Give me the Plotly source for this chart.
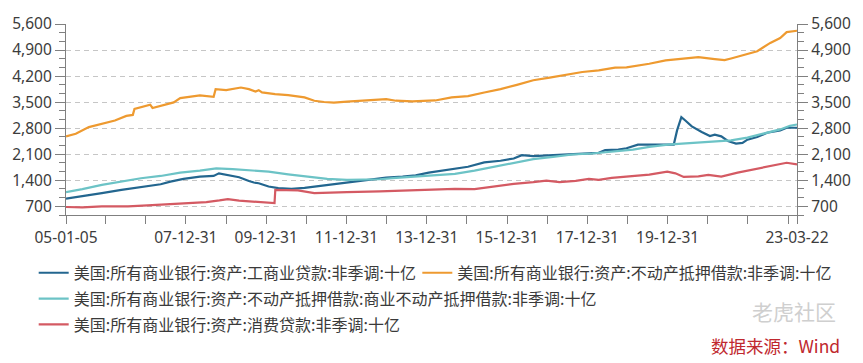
import plotly.graph_objects as go

# ---------------- data ----------------
SERIES_NAMES = [
    "美国:所有商业银行:资产:工商业贷款:非季调:十亿",
    "美国:所有商业银行:资产:不动产抵押借款:非季调:十亿",
    "美国:所有商业银行:资产:不动产抵押借款:商业不动产抵押借款:非季调:十亿",
    "美国:所有商业银行:资产:消费贷款:非季调:十亿",
]
SERIES_COLORS = ["#23668f", "#ee9a30", "#6cc3c6", "#d45a63"]

ci_dates = ["2005-01-05", "2005-06-03", "2005-11-27", "2006-05-24", "2006-11-18", "2007-05-16",
            "2007-08-13", "2007-12-10", "2008-05-07", "2008-09-09", "2008-10-27", "2009-01-01",
            "2009-04-29", "2009-07-27", "2009-09-10", "2009-10-24", "2010-01-22", "2010-04-20",
            "2010-08-18", "2010-12-15", "2011-05-12", "2011-10-07", "2012-03-05", "2012-07-31",
            "2012-12-27", "2013-05-25", "2013-09-21", "2014-01-18", "2014-05-02", "2014-08-14",
            "2015-01-10", "2015-06-07", "2015-11-02", "2016-03-01", "2016-05-14", "2016-08-26",
            "2017-01-22", "2017-06-19", "2017-11-15", "2018-04-13", "2018-06-11", "2018-10-08",
            "2018-12-22", "2019-04-05", "2019-09-15", "2020-02-25", "2020-03-26", "2020-05-04",
            "2020-06-09", "2020-08-07", "2020-11-05", "2021-01-19", "2021-03-04", "2021-05-02",
            "2021-07-01", "2021-09-13", "2021-11-11", "2021-12-26", "2022-03-25", "2022-06-23",
            "2022-10-20", "2022-12-18", "2023-03-22"]
ci_values = [904, 966, 1055, 1143, 1214, 1294,
             1365, 1436, 1498, 1516, 1587, 1543,
             1481, 1380, 1339, 1321, 1232, 1188,
             1170, 1197, 1250, 1303, 1365, 1427,
             1472, 1498, 1534, 1605, 1650, 1702,
             1764, 1880, 1924, 1986, 2075, 2048,
             2075, 2084, 2119, 2137, 2208, 2226,
             2260, 2359, 2359, 2359, 2740, 3095,
             3006, 2847, 2696, 2589, 2625, 2581,
             2456, 2385, 2403, 2492, 2563, 2678,
             2740, 2811, 2811]

re_dates = ["2005-01-05", "2005-04-04", "2005-08-01", "2005-12-28", "2006-03-26", "2006-07-08",
            "2006-09-05", "2006-09-20", "2006-12-17", "2007-02-10", "2007-03-03", "2007-05-16",
            "2007-09-12", "2007-11-10", "2008-03-08", "2008-05-07", "2008-09-09", "2008-09-27",
            "2009-01-01", "2009-03-01", "2009-05-15", "2009-07-27", "2009-09-25", "2009-10-24",
            "2009-11-23", "2010-03-22", "2010-07-19", "2010-12-15", "2011-03-14", "2011-06-11",
            "2011-09-08", "2012-01-05", "2012-06-02", "2012-10-29", "2012-12-27", "2013-03-26",
            "2013-08-22", "2014-01-18", "2014-03-18", "2014-08-14", "2015-01-10", "2015-06-07",
            "2015-11-02", "2016-03-30", "2016-08-26", "2017-01-22", "2017-06-19", "2017-11-15",
            "2018-04-13", "2018-09-09", "2018-12-22", "2019-02-20", "2019-07-17", "2019-12-13",
            "2020-05-10", "2020-10-06", "2021-03-04", "2021-06-01", "2021-07-30", "2021-12-26",
            "2022-03-25", "2022-07-22", "2022-10-20", "2022-12-18", "2023-03-22"]
re_values = [2580, 2651, 2829, 2935, 3006, 3130,
             3157, 3317, 3379, 3432, 3343, 3405,
             3494, 3609, 3654, 3680, 3645, 3849,
             3822, 3849, 3893, 3849, 3787, 3822,
             3760, 3716, 3689, 3627, 3538, 3503,
             3485, 3512, 3538, 3556, 3583, 3538,
             3521, 3538, 3545, 3627, 3663, 3760,
             3849, 3964, 4088, 4159, 4230, 4310,
             4354, 4425, 4434, 4461, 4532, 4620,
             4674, 4709, 4656, 4629, 4674, 4798,
             4869, 5091, 5224, 5383, 5419]

cre_dates = ["2005-01-05", "2005-06-03", "2005-11-27", "2006-05-24", "2006-11-18", "2007-05-16",
             "2007-11-10", "2008-05-07", "2008-10-03", "2009-03-01", "2009-09-10", "2010-01-22",
             "2010-07-19", "2011-01-14", "2011-07-10", "2012-01-05", "2012-06-02", "2012-10-29",
             "2013-03-26", "2013-08-22", "2014-01-18", "2014-05-02", "2014-09-13", "2015-03-10",
             "2015-09-04", "2016-03-01", "2016-08-26", "2017-02-21", "2017-08-18", "2018-02-12",
             "2018-08-10", "2018-12-21", "2019-02-20", "2019-07-17", "2020-01-03", "2020-05-10",
             "2020-10-06", "2021-03-04", "2021-07-30", "2021-12-26", "2022-05-24", "2022-10-20",
             "2023-01-17", "2023-03-22"]
cre_values = [1081, 1161, 1277, 1365, 1454, 1516,
              1605, 1658, 1720, 1702, 1670, 1631,
              1560, 1498, 1436, 1410, 1410, 1427,
              1463, 1498, 1520, 1545, 1570, 1658,
              1764, 1880, 1968, 2031, 2093, 2119,
              2164, 2205, 2226, 2297, 2359, 2385,
              2412, 2439, 2474, 2545, 2651, 2767,
              2864, 2900]

cons_dates = ["2005-01-05", "2005-06-03", "2005-11-27", "2006-07-23", "2007-01-17", "2007-07-14",
              "2008-01-09", "2008-07-05", "2008-11-01", "2009-01-16", "2009-04-29", "2009-09-10",
              "2009-11-23", "2010-03-17", "2010-03-24", "2010-10-16", "2011-03-14", "2011-08-09",
              "2012-01-05", "2012-10-29", "2013-08-22", "2014-03-18", "2014-09-13", "2015-03-10",
              "2015-09-04", "2016-03-01", "2016-08-26", "2016-12-23", "2017-04-21", "2017-09-16",
              "2018-01-14", "2018-04-13", "2018-08-10", "2018-12-21", "2019-02-20", "2019-07-17",
              "2019-12-28", "2020-03-11", "2020-05-25", "2020-10-06", "2021-01-04", "2021-05-02",
              "2021-09-28", "2022-02-24", "2022-07-22", "2022-12-18", "2023-03-22"]
cons_values = [682, 673, 700, 700, 727, 753,
               789, 815, 860, 895, 851, 833,
               824, 789, 1143, 1126, 1055, 1073,
               1081, 1099, 1126, 1140, 1170, 1161,
               1232, 1303, 1348, 1392, 1348, 1383,
               1436, 1410, 1463, 1500, 1516, 1552,
               1631, 1587, 1489, 1507, 1543, 1498,
               1605, 1693, 1764, 1871, 1827]

x_tick_dates = ["2005-01-05", "2005-12-31", "2006-12-31", "2007-12-31", "2008-12-31", "2009-12-31",
                "2010-12-31", "2011-12-31", "2012-12-31", "2013-12-31", "2014-12-31", "2015-12-31",
                "2016-12-31", "2017-12-31", "2018-12-31", "2019-12-31", "2020-12-31", "2021-12-31",
                "2022-12-31", "2023-03-22"]
x_tick_labels = ["05-01-05", "", "", "07-12-31", "", "09-12-31",
                 "", "11-12-31", "", "13-12-31", "", "15-12-31",
                 "", "17-12-31", "", "19-12-31", "", "",
                 "", "23-03-22"]
x_range = ["2005-01-05", "2023-03-22"]
y_step = 700
y_minor_per_major = 3
y_range = [y_step - y_step / y_minor_per_major, 5600]

SOURCE_TEXT = "数据来源：Wind"
WATERMARK_TEXT = "老虎社区"

# ---------------- figure ----------------
AXIS_COLOR = "#808080"
GRID_COLOR = "#c6c6c6"
TICK_FONT = dict(family="Noto Sans, Open Sans, sans-serif", size=15.5, color="#3c3c3c")
LEGEND_FONT = dict(family="Noto Sans CJK SC, sans-serif", size=16, color="#3a3a3a")

fig = go.Figure()
all_series = [(ci_dates, ci_values), (re_dates, re_values), (cre_dates, cre_values), (cons_dates, cons_values)]
legend_ids = ["legend", "legend2", "legend", "legend"]
axis_ids = ["y", "y", "y", "y2"]  # right axis shares the identical scale
for i, (d, v) in enumerate(all_series):
    fig.add_trace(go.Scatter(
        x=d, y=v, mode="lines", name=SERIES_NAMES[i],
        line=dict(color=SERIES_COLORS[i], width=2.2),
        legend=legend_ids[i], legendgroup=f"g{i}", hoverinfo="skip",
        yaxis=axis_ids[i],
    ))

minor_ticks = dict(tick0=y_step, dtick=y_step / y_minor_per_major, ticks="outside",
                   ticklen=6, tickwidth=1.2, tickcolor=AXIS_COLOR, showgrid=False)
yaxis_common = dict(
    range=y_range, tick0=y_step, dtick=y_step, tickformat=",",
    ticks="outside", ticklen=10, tickwidth=1.2, tickcolor=AXIS_COLOR,
    showline=True, linecolor=AXIS_COLOR, linewidth=1.2,
    tickfont=TICK_FONT, zeroline=False, minor=minor_ticks,
)

legend_common = dict(
    orientation="v", yanchor="top", xanchor="left", y=-0.214,
    font=LEGEND_FONT, bgcolor="rgba(0,0,0,0)", borderwidth=0,
    tracegroupgap=2, itemwidth=30, traceorder="grouped",
)

fig.update_layout(
    width=863, height=363,
    margin=dict(l=58, r=58, t=20, b=148, pad=0),
    paper_bgcolor="white", plot_bgcolor="white",
    showlegend=True,
    legend=dict(legend_common, x=-0.0442),
    legend2=dict(legend_common, x=0.4806),
    xaxis=dict(
        type="date", range=x_range, tickmode="array",
        tickvals=x_tick_dates, ticktext=x_tick_labels,
        ticks="outside", ticklen=8, tickwidth=1.2, tickcolor=AXIS_COLOR,
        showline=True, linecolor=AXIS_COLOR, linewidth=1.2,
        showgrid=False, zeroline=False, tickfont=TICK_FONT,
    ),
    yaxis=dict(yaxis_common, side="left", showgrid=True, gridcolor=GRID_COLOR,
               gridwidth=1.3, griddash="5px,4px"),
    yaxis2=dict(yaxis_common, side="right", overlaying="y", anchor="x", showgrid=False),
    annotations=[
        dict(text=SOURCE_TEXT, xref="paper", yref="paper", x=1.062, y=-0.682,
             xanchor="right", yanchor="middle", showarrow=False,
             font=dict(family="Noto Sans CJK SC, sans-serif", size=17.5, color="#c0282e")),
        dict(text=WATERMARK_TEXT, xref="paper", yref="paper", x=1.056, y=-0.505,
             xanchor="right", yanchor="middle", showarrow=False,
             font=dict(family="Noto Sans CJK SC, sans-serif", size=21, color="#cfcfcf")),
    ],
)

fig.write_html("out.html", config={"displayModeBar": False},
               post_script="document.body.style.margin='0';")
